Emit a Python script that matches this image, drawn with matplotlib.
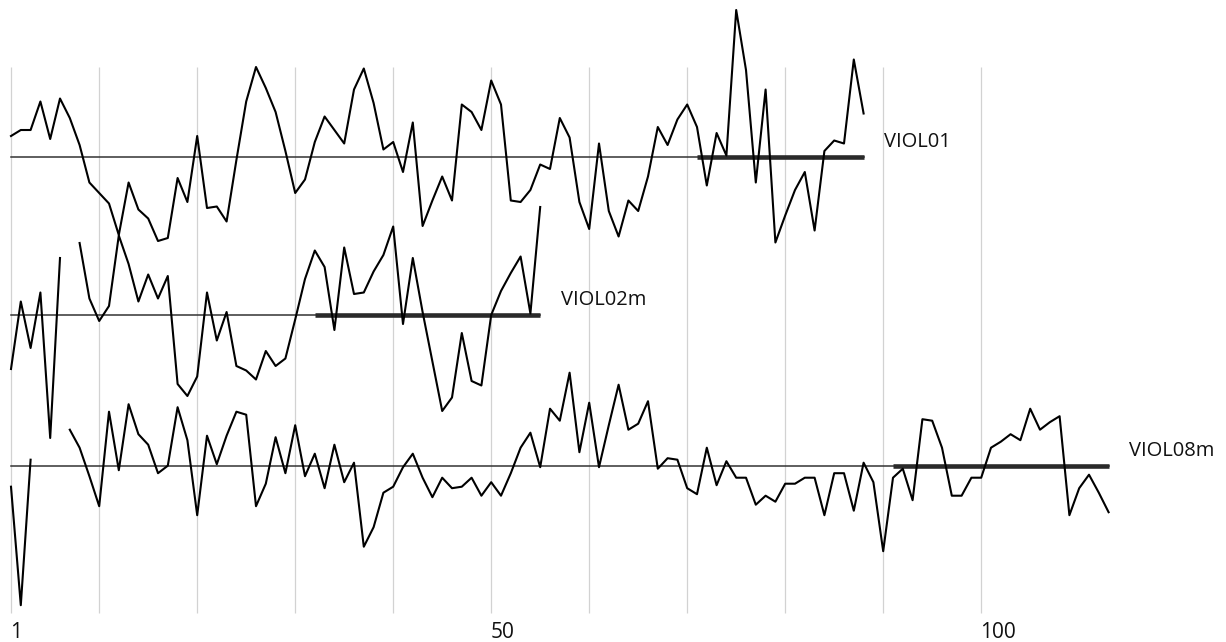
import numpy as np
import matplotlib
matplotlib.use("Agg")
import matplotlib.pyplot as plt

plt.rcParams['font.family'] = ['Open Sans', 'DejaVu Sans']

nan = np.nan

# ring-width index series (1.0 = mean line)
viol01 = [1.14, 1.18, 1.18, 1.37, 1.12, 1.39, 1.26, 1.08, 0.83, 0.76,
          0.69, 0.48, 0.83, 0.65, 0.59, 0.44, 0.46, 0.86, 0.70, 1.14,
          0.66, 0.67, 0.57, 0.98, 1.37, 1.60, 1.46, 1.30, 1.04, 0.76,
          0.85, 1.10, 1.27, 1.18, 1.09, 1.45, 1.59, 1.36, 1.05, 1.10,
          0.90, 1.23, 0.54, 0.71, 0.87, 0.71, 1.35, 1.30, 1.18, 1.51,
          1.35, 0.71, 0.70, 0.78, 0.95, 0.92, 1.26, 1.13, 0.70, 0.52,
          1.09, 0.64, 0.47, 0.71, 0.64, 0.87, 1.20, 1.08, 1.25, 1.35,
          1.20, 0.81, 1.16, 1.01, 1.98, 1.58, 0.83, 1.45, 0.43, 0.61,
          0.78, 0.90, 0.51, 1.04, 1.11, 1.09, 1.65, 1.29]

viol02m = [0.64, 1.09, 0.78, 1.15, 0.18, 1.38, nan, 1.48, 1.11, 0.96,
           1.06, 1.53, 1.34, 1.09, 1.27, 1.11, 1.26, 0.54, 0.46, 0.59,
           1.15, 0.83, 1.02, 0.66, 0.63, 0.57, 0.76, 0.66, 0.71, 0.97,
           1.24, 1.43, 1.32, 0.90, 1.45, 1.14, 1.15, 1.29, 1.40, 1.59,
           0.94, 1.38, 1.02, 0.69, 0.36, 0.45, 0.88, 0.56, 0.53, 1.00,
           1.16, 1.28, 1.39, 1.01, 1.72]

viol08m = [0.86, 0.07, 1.04, nan, nan, nan, 1.24, 1.12, 0.93, 0.73,
           1.36, 0.97, 1.41, 1.21, 1.14, 0.95, 1.00, 1.39, 1.17, 0.67,
           1.20, 1.01, 1.20, 1.36, 1.34, 0.73, 0.88, 1.19, 0.95, 1.27,
           0.93, 1.08, 0.85, 1.14, 0.89, 1.02, 0.46, 0.59, 0.82, 0.86,
           0.99, 1.08, 0.92, 0.79, 0.92, 0.85, 0.86, 0.92, 0.80, 0.89,
           0.80, 0.95, 1.12, 1.22, 0.99, 1.38, 1.30, 1.62, 1.09, 1.42,
           0.99, 1.27, 1.54, 1.24, 1.28, 1.43, 0.98, 1.05, 1.04, 0.85,
           0.81, 1.12, 0.87, 1.03, 0.92, 0.92, 0.74, 0.80, 0.76, 0.88,
           0.88, 0.92, 0.92, 0.67, 0.95, 0.95, 0.70, 1.02, 0.89, 0.43,
           0.92, 0.98, 0.77, 1.31, 1.30, 1.12, 0.80, 0.80, 0.92, 0.92,
           1.12, 1.16, 1.21, 1.17, 1.38, 1.24, 1.29, 1.33, 0.67, 0.85,
           0.94, 0.82, 0.69]

names = ['VIOL01', 'VIOL02m', 'VIOL08m']
series = [viol01, viol02m, viol08m]
# first ring of the highlighted (bold) part of each mean line
bold_start = [71, 32, 91]
tick_labels = [1, 50, 100]
grid_x = [1, 10, 20, 30, 40, 50, 60, 70, 80, 90, 100]

# layout: 150 px per index unit, baselines stacked
offsets = [3.2333, 2.18, 1.1753]

fig = plt.figure(figsize=(12.26, 6.42), dpi=100)
ax = fig.add_axes([0, 0, 1, 1])
ax.set_xlim(1 - 11 / 9.8, 1 + (1226 - 11) / 9.8)
ax.set_ylim(0, 642 / 150)
ax.axis('off')

# light vertical grid
ax.vlines(grid_x, 29 / 150, 575 / 150, color='#d2d2d2', lw=0.9, zorder=0)

for name, vals, off, b in zip(names, series, offsets, bold_start):
    v = np.array(vals, dtype=float)
    x = np.arange(1, len(v) + 1)
    n = len(v)
    ax.plot([1, n], [off, off], color='#333333', lw=1.1, zorder=1)
    ax.plot([b, n], [off, off], color='#2a2a2a', lw=3.3, zorder=1, solid_capstyle='butt')
    ax.plot(x, v - 1 + off, color='black', lw=1.5, zorder=2)
    ax.text(n + 2.1, off + 0.1, name, fontsize=14.5, ha='left', va='center', color='#111111')

for t in tick_labels:
    ax.text(t - 0.1, 3.5 / 150, str(t), fontsize=15, ha='left', va='baseline', color='#111111')

fig.savefig('out.png', dpi=100)
